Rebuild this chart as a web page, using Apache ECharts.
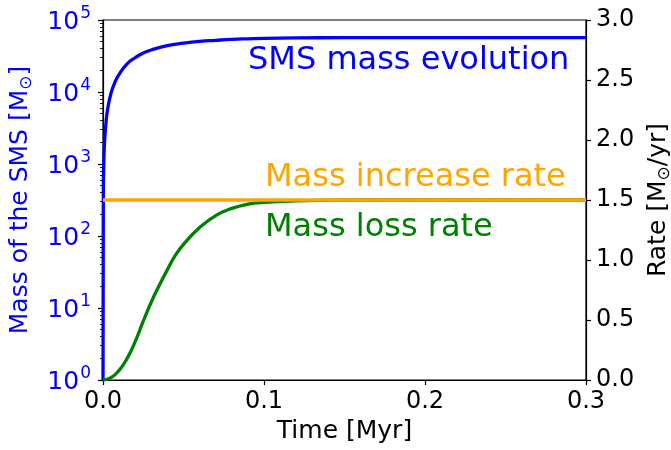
<!DOCTYPE html>
<html>
<head>
<meta charset="utf-8">
<script src="https://cdn.jsdelivr.net/npm/echarts@6/dist/echarts.min.js"></script>
<style>
	html, body { margin: 0; padding: 0; background: #fff; overflow: hidden; }
	#chart { width: 671px; height: 450px; }
</style>
</head>
<body>
<div id="chart"></div>
<script>
	// SMS mass (left, log axis)
	const massTime = [0, 0.0002, 0.0005, 0.001, 0.002, 0.003, 0.005, 0.0075, 0.01, 0.015, 0.02, 0.025, 0.03, 0.04, 0.05, 0.06, 0.07, 0.08, 0.09, 0.1, 0.12, 0.15, 0.2, 0.3];
	const massValue = [1, 420, 1050, 2070, 4070, 6000, 9650, 13800, 17600, 24600, 29900, 34700, 38300, 44000, 47600, 50400, 52200, 53800, 54800, 55600, 56300, 56800, 57000, 57000];

	// mass loss rate (right axis)
	const lossTime = [0, 0.005, 0.01, 0.015, 0.02, 0.025, 0.03, 0.035, 0.04, 0.045, 0.05, 0.06, 0.07, 0.08, 0.09, 0.1, 0.12, 0.14, 0.16, 0.3];
	const lossRate = [0, 0.02, 0.08, 0.18, 0.32, 0.49, 0.65, 0.79, 0.92, 1.04, 1.13, 1.27, 1.37, 1.43, 1.465, 1.48, 1.493, 1.498, 1.5, 1.5];

	// mass increase rate (constant)
	const incTime = [0, 0.3];
	const incRate = [1.5, 1.5];

	// minor ticks of the log axis: 2..9 in each decade
	const massMinorTicks = [];
	for (let d = 1; d < 100000; d *= 10) {
		for (let k = 2; k <= 9; k++) massMinorTicks.push(k * d);
	}

	const zip = (xs, ys) => xs.map((x, i) => [x, ys[i]]);

	const font = 'DejaVu Sans';
	const sunRich = {
		t: { fontSize: 25, fontFamily: font },
		sub: { fontSize: 17, fontFamily: font, padding: [12, 0, 0, 0] }
	};
	const chart = echarts.init(document.getElementById('chart'));
	const option = {
		animation: false,
		grid: {
			left: 103, right: 85, top: 20, bottom: 70,
			outerBoundsMode: 'none',
			containLabel: false,
			show: true, borderColor: '#000', borderWidth: 1.2
		},
		xAxis: {
			type: 'value',
			min: 0, max: 0.3, interval: 0.1,
			name: 'Time [Myr]',
			nameLocation: 'middle',
			nameGap: 39,
			nameTextStyle: { color: '#000', fontSize: 25, fontFamily: font },
			splitLine: { show: false },
			axisLine: { lineStyle: { color: '#000', width: 1.2 } },
			axisTick: { length: 5, lineStyle: { color: '#000', width: 1.2 } },
			axisLabel: {
				color: '#000', fontSize: 24, fontFamily: font, margin: 10,
				formatter: v => v.toFixed(1)
			}
		},
		yAxis: [
			{
				type: 'log', logBase: 10,
				min: 1, max: 100000,
				position: 'left',
				name: '{t|Mass of the SMS [M}{sub|\u2299}{t|]}',
				nameLocation: 'middle',
				nameGap: 68,
				nameTextStyle: { color: '#0000ff', fontSize: 25, fontFamily: font, rich: sunRich },
				splitLine: { show: false },
				axisLine: { show: true, lineStyle: { color: '#000', width: 1.2 } },
				axisTick: { length: 5, lineStyle: { color: '#000', width: 1.2 } },
				axisLabel: {
					margin: 12,
					formatter: v => '{b|10}{s|' + Math.round(Math.log10(v)) + '}',
					rich: {
						b: { color: '#0000ff', fontSize: 25, fontFamily: font, lineHeight: 30, verticalAlign: 'bottom' },
						s: { color: '#0000ff', fontSize: 17, fontFamily: font, lineHeight: 30, verticalAlign: 'top', padding: [0, 0, 12, 1] }
					}
				}
			},
			{
				type: 'value',
				min: 0, max: 3, interval: 0.5,
				position: 'right',
				name: '{t|Rate [M}{sub|\u2299}{t|/yr]}',
				nameLocation: 'middle',
				nameGap: 58,
				nameRotate: 90,
				nameTextStyle: { color: '#000', fontSize: 25, fontFamily: font, rich: sunRich },
				splitLine: { show: false },
				axisLine: { show: true, lineStyle: { color: '#000', width: 1.2 } },
				axisTick: { show: true, length: 5, lineStyle: { color: '#000', width: 1.2 } },
				axisLabel: {
					color: '#000', fontSize: 24, fontFamily: font, margin: 10,
					formatter: v => v.toFixed(1)
				}
			},
			{
				// minor ticks of the log axis
				type: 'log', logBase: 10,
				min: 1, max: 100000,
				position: 'left',
				splitLine: { show: false },
				axisLine: { show: false },
				axisLabel: { show: false },
				axisTick: {
					show: true, length: 3,
					customValues: massMinorTicks,
					lineStyle: { color: '#000', width: 0.9 }
				}
			}
		],
		series: [
			{
				name: 'SMS mass evolution',
				type: 'line',
				yAxisIndex: 0,
				data: zip(massTime, massValue),
				showSymbol: false,
				smooth: true,
				lineStyle: { color: '#0000ff', width: 3.3 },
				z: 2
			},
			{
				name: 'Mass loss rate',
				type: 'line',
				yAxisIndex: 1,
				data: zip(lossTime, lossRate),
				showSymbol: false,
				smooth: true,
				lineStyle: { color: '#008000', width: 3.3 },
				z: 3
			},
			{
				name: 'Mass increase rate',
				type: 'line',
				yAxisIndex: 1,
				data: zip(incTime, incRate),
				showSymbol: false,
				lineStyle: { color: '#ffa500', width: 3.3 },
				z: 4
			}
		],
		graphic: [
			{
				type: 'text', left: 248, top: 45,
				style: { text: 'SMS mass evolution', fill: '#0000ff', font: '32px "DejaVu Sans"' }
			},
			{
				type: 'text', left: 265, top: 162,
				style: { text: 'Mass increase rate', fill: '#ffa500', font: '32px "DejaVu Sans"' }
			},
			{
				type: 'text', left: 265, top: 212,
				style: { text: 'Mass loss rate', fill: '#008000', font: '32px "DejaVu Sans"' }
			}
		]
	};
	chart.setOption(option);
</script>
</body>
</html>
